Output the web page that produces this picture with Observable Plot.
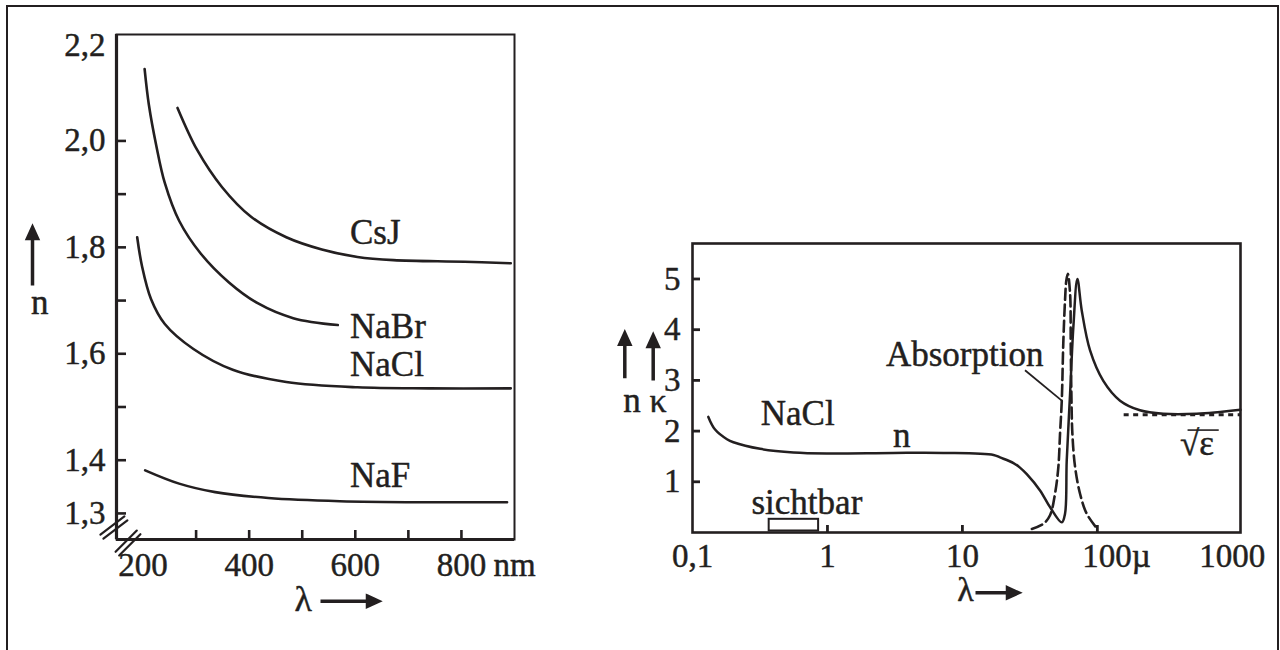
<!DOCTYPE html>
<html><head><meta charset="utf-8">
<script src="https://cdn.jsdelivr.net/npm/d3@7"></script>
<script src="https://cdn.jsdelivr.net/npm/@observablehq/plot@0.6"></script>
<style>
html,body{margin:0;padding:0;background:#fff;overflow:hidden}
#page{position:relative;width:1280px;height:650px;overflow:hidden;background:#fff;font-family:"Liberation Serif","Times New Roman",Times,serif}
#border{position:absolute;left:6px;top:5px;width:1273px;height:720px;border:2.5px solid #231f20;box-sizing:border-box}
#left{position:absolute;left:0;top:0}
#right{position:absolute;left:560px;top:200px}
svg text{font-family:"Liberation Serif","Times New Roman",Times,serif !important}
</style></head><body>
<div id="page"><div id="border"></div><div id="left"></div><div id="right"></div></div>
<script>
const FONT = '"Liberation Serif", "Times New Roman", Times, serif';
const INK = "#231f20";
const T = {fontFamily: FONT, fontVariant: "normal", fill: INK, stroke: INK, strokeWidth: 0.45};
const TA = {fontFamily: FONT, fontVariant: "normal", textStroke: INK, textStrokeWidth: 0.45};

// ---------- Left chart: n(λ) in nm ----------
const csjLambda  = [265, 302, 349, 403, 470, 537, 604, 672, 806, 893];
const csjN       = [2.062, 1.983, 1.913, 1.858, 1.819, 1.796, 1.782, 1.776, 1.773, 1.770];
const nabrLambda = [203, 211, 225, 241, 268, 309, 362, 416, 483, 567];
const nabrN      = [2.135, 2.068, 1.991, 1.921, 1.850, 1.788, 1.734, 1.695, 1.667, 1.654];
const naclLambda = [189, 198, 215, 241, 295, 369, 470, 604, 739, 893];
const naclN      = [1.819, 1.765, 1.703, 1.656, 1.609, 1.570, 1.547, 1.537, 1.535, 1.535];
const nafLambda  = [204, 268, 336, 436, 571, 739, 886];
const nafN       = [1.381, 1.356, 1.340, 1.329, 1.323, 1.321, 1.321];
const saltNames  = ["CsJ", "NaBr", "NaCl", "NaF"];
const saltLabelN = [1.828, 1.650, 1.580, 1.370];
const saltLabelLambda = 590;
const leftXDomain = [150, 900];
const leftYDomain = [1.251, 2.2];
const leftYTicks  = [1.3, 1.4, 1.5, 1.6, 1.7, 1.8, 1.9, 2.0];
const leftYLabels = [1.3, 1.4, 1.6, 1.8, 2.0];
const leftYTop    = [2.2];
const leftXTicks  = [300, 400, 500, 600, 700, 800];
const leftXLabels = [200, 400, 600, 800];
const leftUnit    = [800];

// ---------- Right chart: NaCl n and κ over log λ (µm) ----------
const irLambda = [0.131,0.147,0.180,0.201,0.317,0.560,0.99,3.08,7.23,17.0,19.0,23.9,26.7,30.0,37.6,44.6,54.5,57.6,59.3,62.8,66.4,71.1,76.6,88.3,110.7,147.3,207,308,545,1150];
const irN      = [2.28,2.03,1.84,1.78,1.65,1.58,1.56,1.57,1.57,1.53,1.48,1.37,1.28,1.15,0.83,0.50,0.20,0.37,1.42,2.74,4.05,5.0,4.38,3.59,2.99,2.60,2.41,2.34,2.34,2.42];
const kLambda  = [32.7,39.8,44.6,48.6,51.4,52.9,54.5,55.9,57.6,58.9,60.4,62.8,63.5,64.2,65.3,68.4,74.5,83.4,100];
const kVal     = [0.07,0.17,0.34,0.77,1.29,1.95,2.60,3.72,4.58,4.97,5.10,4.71,3.72,2.74,1.95,1.29,0.76,0.37,0.07];
const epsLambda = [158, 1150];
const epsValue  = 2.32;
const visibleLambda = [0.37, 0.86];
const visibleBox    = [0.03, 0.26];
const rightXDomain = [0.1, 1150];
const rightYDomain = [0, 5.7];
const rightYTicks  = [1, 2, 3, 4, 5];
const rightXTicks  = [1, 10, 100];
const rightXLabels = [0.1, 1, 10, 1000];
const rightNotes = [
  {text: "NaCl", lambda: 0.602, v: 2.35},
  {text: "n", lambda: 3.56, v: 1.90},
  {text: "Absorption", lambda: 10.4, v: 3.50},
  {text: "sichtbar", lambda: 0.704, v: 0.58},
  {text: "√ε", lambda: 548, v: 1.74}
];
const sqrtBar = [{l1: 470, l2: 800, v: 2.02}];
const leaderLine = [{l1: 29.1, v1: 3.20, l2: 54.5, v2: 2.60}];

const comma = d => d.toFixed(1).replace(".", ",");
const zip = (xs, ys) => xs.map((x, i) => ({lambda: x, n: ys[i]}));

const lineShape = {draw(ctx, l) { ctx.moveTo(0, 0); ctx.lineTo(0, -l); }};
const arrowShape = {draw(ctx, l) {
  const h = 11, w = 5;
  ctx.moveTo(0, 0); ctx.lineTo(0, -l + h);
  ctx.moveTo(-w, -l + h); ctx.lineTo(0, -l); ctx.lineTo(w, -l + h); ctx.closePath();
}};
const arrow = (anchor, dx, dy, rotate, length) =>
  Plot.vector([0], {frameAnchor: anchor, dx, dy, rotate, length, anchor: "start",
    shape: arrowShape, stroke: INK, fill: INK, strokeWidth: 3.5, strokeLinejoin: "miter", strokeLinecap: "butt"});
const slash = (dx, dy, rotate) =>
  Plot.vector([0], {frameAnchor: "bottom-left", dx, dy, rotate, length: 30, anchor: "middle",
    shape: lineShape, stroke: INK, strokeWidth: 2.2});

const series = [
  zip(csjLambda, csjN), zip(nabrLambda, nabrN), zip(naclLambda, naclN), zip(nafLambda, nafN)
];

const left = Plot.plot({
  width: 560, height: 650,
  marginLeft: 116, marginRight: 46, marginTop: 34, marginBottom: 111,
  x: {domain: leftXDomain},
  y: {domain: leftYDomain},
  style: {fontFamily: FONT, background: "transparent", color: INK, overflow: "visible"},
  marks: [
    Plot.frame({stroke: INK, strokeWidth: 2}),
    Plot.ruleX([leftXDomain[0]], {stroke: INK, strokeWidth: 3.2}),
    Plot.ruleY([leftYDomain[0]], {stroke: INK, strokeWidth: 3.2}),
    Plot.axisY(leftYTicks, {tickSize: -10, tickFormat: () => "", strokeWidth: 2.6, label: null}),
    Plot.axisY(leftYLabels, {...TA, tickSize: 0, tickPadding: 11, tickFormat: comma, fontSize: 33, label: null}),
    Plot.text(leftYTop, {...T, y: d => d, frameAnchor: "left", text: comma, dx: -11, dy: 11, textAnchor: "end", fontSize: 33}),
    Plot.axisX(leftXTicks, {tickSize: -9, tickFormat: () => "", strokeWidth: 2.6, label: null}),
    Plot.axisX(leftXLabels, {...TA, tickSize: 0, tickPadding: 13, tickFormat: d => String(d), fontSize: 33, label: null}),
    Plot.text(leftUnit, {...T, x: d => d, frameAnchor: "bottom", text: () => "nm", lineAnchor: "top", textAnchor: "start", dx: 32, dy: 13, fontSize: 33}),
    ...series.map(s => Plot.line(s, {x: "lambda", y: "n", curve: "catmull-rom", stroke: INK, strokeWidth: 2.6})),
    Plot.text(saltNames, {...T, x: () => saltLabelLambda, y: (d, i) => saltLabelN[i], text: d => d, textAnchor: "start", fontSize: 35}),
    slash(-4.1, -14, 53), slash(-1.1, -10, 53),
    slash(9.7, 1.7, 45), slash(13.3, 5.3, 45),
    arrow("left", -84, -1.5, 0, 58),
    Plot.text(["n"], {...T, frameAnchor: "left", text: d => d, dx: -85.5, dy: 15.3, fontSize: 35}),
    Plot.text(["λ"], {...T, frameAnchor: "bottom-left", text: d => d, dx: 178, dy: 71, fontSize: 36}),
    arrow("bottom-left", 204, 61.7, 90, 58)
  ]
});
document.getElementById("left").appendChild(left);

const right = Plot.plot({
  width: 720, height: 450,
  marginLeft: 132, marginRight: 40, marginTop: 43, marginBottom: 118,
  x: {type: "log", domain: rightXDomain},
  y: {domain: rightYDomain},
  style: {fontFamily: FONT, background: "transparent", color: INK, overflow: "visible"},
  marks: [
    Plot.frame({stroke: INK, strokeWidth: 2.6}),
    Plot.axisY(rightYTicks, {tickSize: -8, tickFormat: () => "", strokeWidth: 2.8, label: null}),
    Plot.axisY(rightYTicks, {...TA, tickSize: 0, tickPadding: 12, tickFormat: d => String(d), fontSize: 33, label: null}),
    Plot.axisX(rightXTicks, {tickSize: -7, tickFormat: () => "", strokeWidth: 2.8, label: null}),
    Plot.axisX(rightXLabels, {...TA, tickSize: 0, tickPadding: 11, tickFormat: d => d < 1 ? comma(d) : String(d), fontSize: 33, label: null}),
    Plot.text([100], {...T, x: d => d, frameAnchor: "bottom", text: () => "100µ", lineAnchor: "top", textAnchor: "start", dx: -15, dy: 11, fontSize: 33}),
    Plot.rect([0], {x1: () => visibleLambda[0], x2: () => visibleLambda[1], y1: () => visibleBox[0], y2: () => visibleBox[1], fill: "none", stroke: INK, strokeWidth: 2}),
    Plot.ruleY([epsValue], {x1: () => epsLambda[0], x2: () => epsLambda[1], stroke: INK, strokeWidth: 3, strokeDasharray: "5,4.5"}),
    Plot.line(zip(kLambda, kVal), {x: "lambda", y: "n", curve: "catmull-rom", stroke: INK, strokeWidth: 2.6, strokeDasharray: "11,5"}),
    Plot.line(zip(irLambda, irN), {x: "lambda", y: "n", curve: "catmull-rom", stroke: INK, strokeWidth: 2.5}),
    Plot.link(leaderLine, {x1: "l1", y1: "v1", x2: "l2", y2: "v2", stroke: INK, strokeWidth: 1.8}),
    Plot.text(rightNotes, {...T, x: "lambda", y: "v", text: "text", fontSize: 35}),
    Plot.ruleY(sqrtBar, {x1: "l1", x2: "l2", y: "v", stroke: INK, strokeWidth: 1.6}),
    arrow("left", -67.7, -9.8, 0, 45),
    arrow("left", -39.3, -7.5, 0, 45),
    Plot.text(["n"], {...T, frameAnchor: "left", text: d => d, dx: -69.3, dy: 13, fontSize: 35}),
    Plot.text(["κ"], {...T, frameAnchor: "left", text: d => d, dx: -43, dy: 13, fontSize: 34}),
    Plot.text(["λ"], {...T, frameAnchor: "bottom-left", text: d => d, dx: 264.7, dy: 68, fontSize: 34}),
    arrow("bottom-left", 283, 60.3, 90, 43)
  ]
});
document.getElementById("right").appendChild(right);
</script></body></html>
